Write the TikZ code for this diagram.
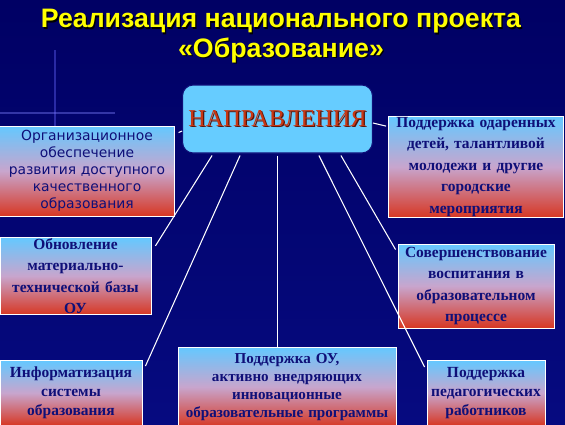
\documentclass[tikz,border=0pt]{standalone}
\usepackage{fontspec}
\setmainfont{Liberation Serif}
\setsansfont{Liberation Sans}
\newfontfamily\verdana{DejaVu Sans}
\usetikzlibrary{positioning, calc}
\definecolor{bgnavy}{RGB}{0,0,100}
\definecolor{bgnavylow}{RGB}{6,10,128}
\definecolor{titleyellow}{RGB}{255,255,0}
\definecolor{boxtop}{RGB}{100,200,255}
\definecolor{boxmid}{RGB}{200,165,205}
\definecolor{boxbot}{RGB}{215,55,35}
\definecolor{textnavy}{RGB}{15,15,120}
\definecolor{dirblue}{RGB}{102,204,255}
\definecolor{dirred}{RGB}{200,55,20}
\definecolor{dirshadow}{RGB}{90,20,10}
\newcommand{\shadowed}[2]{\rlap{\textcolor{#1}{\kern0.7pt\raisebox{-0.7pt}{#2}}}#2}

\begin{document}
\begin{tikzpicture}[x=0.02cm, y=-0.02cm,
    topic/.style={rectangle, draw=white, line width=0.5pt, top color=boxtop,
                  bottom color=boxbot, middle color=boxmid, inner sep=0.5pt,
                  align=center, text=textnavy,
                  font=\bfseries\fontsize{8.8}{12.2}\selectfont},
    dirbox/.style={rectangle, rounded corners=6pt, draw=textnavy, line width=0.6pt,
                   fill=dirblue, minimum width=3.78cm, minimum height=1.36cm,
                   text=dirred, font=\fontsize{13.8}{15}\selectfont},
    spoke/.style={draw=white, line width=0.6pt}
]
    % background
    \shade[top color=bgnavy, bottom color=bgnavylow] (0,0) rectangle (565,424);
    \useasboundingbox (0,0) rectangle (565,424);
    \clip (0,0) rectangle (565,424);
    \draw[blue!60!white, opacity=0.4, line width=0.6pt] (55,50) -- (55,126);
    \draw[blue!50!white, opacity=0.4, line width=0.6pt] (0,113) -- (115,113);

    % title
    \node[align=center, text=titleyellow, font=\sffamily\bfseries\fontsize{15.2}{17}\selectfont] (title) at (281,37)
        {\shadowed{black}{Реализация национального проекта}\\
         \shadowed{black}{«Образование»}};

    % centre
    \node[dirbox] (dir) at (277.5,119) {\shadowed{dirshadow}{НАПРАВЛЕНИЯ}};

    % directions
    \node[topic, minimum width=3.48cm, minimum height=1.8cm, text width=3.45cm,
          font=\verdana\fontsize{7.9}{9.6}\selectfont] (org) at (87,171)
        {Организационное\\ обеспечение\\ развития доступного\\ качественного\\ образования};
    \node[topic, minimum width=3.5cm, minimum height=1.96cm, text width=3.45cm] (gifted) at (476,167)
        {Поддержка одаренных\\ детей, талантливой\\ молодежи и другие\\ городские\\ мероприятия};
    \node[topic, minimum width=3.02cm, minimum height=1.52cm, text width=2.98cm] (base) at (75.5,276)
        {Обновление\\ материально-\\ технической базы\\ ОУ};
    \node[topic, minimum width=3.12cm, minimum height=1.68cm, text width=3.08cm] (upbr) at (476,286)
        {Совершенствование\\ воспитания в\\ образовательном\\ процессе};
    \node[topic, minimum width=2.84cm, minimum height=1.3cm, text width=2.8cm,
          font=\bfseries\fontsize{8.8}{10.8}\selectfont] (info) at (71,393)
        {Информатизация\\ системы\\ образования};
    \node[topic, minimum width=4.36cm, minimum height=1.6cm, text width=4.32cm,
          font=\bfseries\fontsize{8.6}{10.3}\selectfont] (innov) at (287,387)
        {Поддержка ОУ,\\ активно внедряющих\\ инновационные\\ образовательные программы};
    \node[topic, minimum width=2.36cm, minimum height=1.3cm, text width=2.32cm,
          font=\bfseries\fontsize{8.8}{10.6}\selectfont] (staff) at (486,393)
        {Поддержка\\ педагогических\\ работников};

    % spokes
    \draw[spoke] ($(dir.west)+(0,12)$) -- ($(org.north east)+(4,7)$);
    \draw[spoke] ($(dir.east)+(0,4)$) -- ($(gifted.north west)+(-2,10)$);
    \draw[spoke] ($(dir.south west)+(30,2)$) -- ($(base.north east)+(4,9)$);
    \draw[spoke] ($(dir.south west)+(58,2)$) -- ($(info.north east)+(3,6)$);
    \draw[spoke] ($(dir.south)+(0,2)$) -- (dir.south |- innov.north);
    \draw[spoke] ($(dir.south east)+(-32,2)$) -- ($(upbr.north west)+(-2,6)$);
    \draw[spoke] ($(dir.south east)+(-54,2)$) -- ($(staff.north west)+(-2,7)$);
\end{tikzpicture}
\end{document}
